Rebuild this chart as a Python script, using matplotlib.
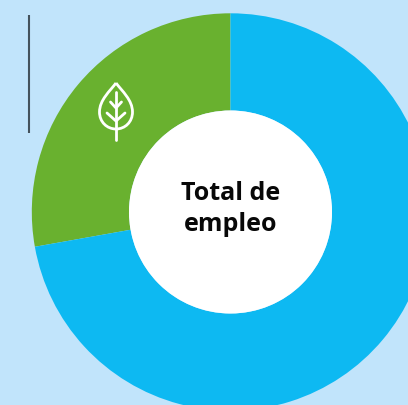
import matplotlib
matplotlib.use('Agg')
import matplotlib.pyplot as plt
from matplotlib.path import Path
from matplotlib.patches import PathPatch

# share of employment, read from the ring
labels = ['Verde', 'Resto']
shares = [27.8, 72.2]
colors = ['#69B12F', '#0DB9F2']
center_text = 'Total de\nempleo'

W, H = 408, 405
BG = '#C1E4FB'


def py(y):
    # picture y (from top) to axes y
    return H - y


def draw_leaf(ax):
    outline = Path(
        [(116, py(83)), (110, py(91)), (99.5, py(100)), (99.5, py(112)),
         (99.5, py(122)), (107, py(129)), (116, py(129)),
         (125, py(129)), (132.5, py(122)), (132.5, py(112)),
         (132.5, py(100)), (122, py(91)), (116, py(83))],
        [Path.MOVETO] + [Path.CURVE4] * 12)
    ax.add_patch(PathPatch(outline, fc='none', ec='white', lw=2.0, zorder=3))
    veins = [
        [(116, 92), (116, 140)],
        [(110.5, 102), (116, 108), (121.5, 102)],
        [(107, 113), (116, 121), (125, 113)],
    ]
    for v in veins:
        ax.plot([p[0] for p in v], [py(p[1]) for p in v], color='white', lw=2.0,
                solid_capstyle='round', solid_joinstyle='round', zorder=3)


fig = plt.figure(figsize=(W / 100, H / 100), dpi=100, facecolor=BG)
ax = fig.add_axes([0, 0, 1, 1])
ax.set_facecolor(BG)

ax.pie(shares, colors=colors, startangle=90, counterclock=True,
       radius=198.7, center=(230.5, py(212)),
       wedgeprops={'width': 97.2, 'linewidth': 0})
# white hole of the ring
ax.add_patch(plt.Circle((230.5, py(212)), 101.5, fc='white', ec='none', zorder=2))

ax.plot([29, 29], [py(15), py(133)], color='#44525C', lw=1.5, solid_capstyle='butt')
draw_leaf(ax)

ax.text(230.5, py(209), center_text, ha='center', va='center', fontsize=18,
        fontweight='bold', family='Open Sans', color='#080808', linespacing=1.3, zorder=4)

ax.set_xlim(0, W)
ax.set_ylim(0, H)
ax.set_aspect('auto')
ax.axis('off')

fig.savefig('out.png', dpi=100, facecolor=BG)
